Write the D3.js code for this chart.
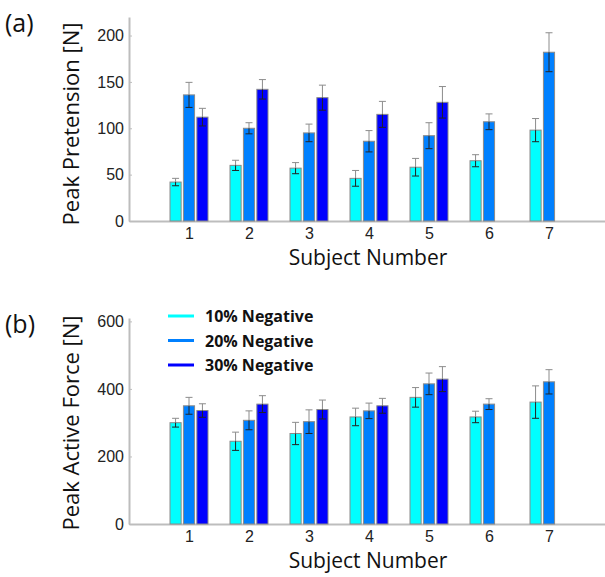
<!DOCTYPE html>
<html>
<head>
<meta charset="utf-8">
<script src="https://cdn.jsdelivr.net/npm/d3@7"></script>
<style>
  body { margin: 0; background: #fff; }
  svg { display: block; }
  .tick text { font-family: "Liberation Sans", Arial, sans-serif; font-size: 16px; fill: #222; }
  .label { font-family: "Open Sans", sans-serif; fill: #111; }
  .panel { font-family: "Open Sans", sans-serif; font-size: 25px; fill: #111; }
  .legend text { font-family: "Open Sans", sans-serif; font-size: 16px; font-weight: bold; fill: #111; }
</style>
</head>
<body>
<div id="chart"></div>
<script>
const subjects = [1, 2, 3, 4, 5, 6, 7]
const series = ['10% Negative', '20% Negative', '30% Negative']
const colors = ['#00ffff', '#0080ff', '#0000ff']

// (a) peak pretension [N], mean and error per series, null = not tested
const pretension = [
  [42, 60, 57, 46, 58, 65, 98],
  [136, 100, 95, 86, 92, 107, 182],
  [112, 142, 133, 115, 128, null, null]
]
const pretensionErr = [
  [4, 5.5, 6, 8.5, 9.5, 6.5, 12.5],
  [13.5, 6, 9.5, 11.5, 14, 8.5, 21],
  [9.5, 10.5, 13.5, 14, 17, null, null]
]

// (b) peak active force [N]
const force = [
  [300, 245, 268, 317, 375, 317, 361],
  [350, 307, 303, 335, 415, 355, 421],
  [336, 355, 339, 350, 429, null, null]
]
const forceErr = [
  [13, 27, 33, 26, 29, 17, 48],
  [25, 28, 35, 23, 32, 16, 36],
  [20, 25, 28, 22, 37, null, null]
]

const pretensionTicks = [0, 50, 100, 150, 200]
const forceTicks = [0, 200, 400, 600]

const width = 605, height = 577

const svg = d3.select('#chart').append('svg')
  .attr('width', width)
  .attr('height', height)

const x = d3.scaleLinear().domain([0, 8]).range([129, 609])
const xSub = d3.scaleBand().domain(d3.range(series.length)).range([-19, 19]).paddingInner(0.17)

function drawPanel(opts) {
  const y = d3.scaleLinear().domain(opts.domain).range([opts.bottom, opts.top])
  const g = svg.append('g')

  // axes, small inward ticks like the original
  const yAxis = g.append('g')
    .attr('transform', `translate(${x(0)},0)`)
    .call(d3.axisLeft(y).tickValues(opts.ticks).tickSizeInner(-3).tickSizeOuter(0).tickPadding(5))
  const xAxis = g.append('g')
    .attr('transform', `translate(0,${opts.bottom})`)
    .call(d3.axisBottom(x).tickValues(subjects).tickSizeInner(-3).tickSizeOuter(0).tickPadding(7))
  ;[yAxis, xAxis].forEach(a => {
    a.select('.domain').attr('stroke', '#bdbdbd').attr('stroke-width', 2)
    a.selectAll('.tick line').attr('stroke', '#bdbdbd')
  })

  // bars
  opts.values.forEach((vals, s) => {
    const data = subjects.map((d, i) => ({ subj: d, v: vals[i], e: opts.errors[s][i] }))
      .filter(d => d.v != null)
    const cx = d => x(d.subj) + xSub(s) + xSub.bandwidth() / 2

    g.selectAll(null)
      .data(data)
      .join('rect')
      .attr('x', d => x(d.subj) + xSub(s))
      .attr('y', d => y(d.v))
      .attr('width', xSub.bandwidth())
      .attr('height', d => y(0) - y(d.v))
      .attr('fill', colors[s])
      .attr('stroke', '#8a8a8a')
      .attr('stroke-width', 1)

    // error bars: upper half grey, lower half dark over the bar
    const eb = g.selectAll(null).data(data).join('g')
    eb.append('line')
      .attr('x1', cx).attr('x2', cx)
      .attr('y1', d => y(d.v)).attr('y2', d => y(d.v + d.e))
      .attr('stroke', '#8c8c8c')
    eb.append('line')
      .attr('x1', d => cx(d) - 3.5).attr('x2', d => cx(d) + 3.5)
      .attr('y1', d => y(d.v + d.e)).attr('y2', d => y(d.v + d.e))
      .attr('stroke', '#8c8c8c')
    eb.append('line')
      .attr('x1', cx).attr('x2', cx)
      .attr('y1', d => y(d.v)).attr('y2', d => y(d.v - d.e))
      .attr('stroke', '#222')
    eb.append('line')
      .attr('x1', d => cx(d) - 3.5).attr('x2', d => cx(d) + 3.5)
      .attr('y1', d => y(d.v - d.e)).attr('y2', d => y(d.v - d.e))
      .attr('stroke', '#222')
  })

  // labels
  g.append('text')
    .attr('class', 'label')
    .attr('text-anchor', 'middle')
    .style('font-size', '22px')
    .attr('transform', `translate(79,${opts.yLabelY}) rotate(-90)`)
    .text(opts.yLabel)
  g.append('text')
    .attr('class', 'label')
    .attr('text-anchor', 'middle')
    .style('font-size', '21px')
    .attr('x', 368)
    .attr('y', opts.bottom + 44)
    .text('Subject Number')
  g.append('text')
    .attr('class', 'panel')
    .attr('x', 5)
    .attr('y', opts.top + 15)
    .text(opts.panel)

  return g
}

drawPanel({
  domain: [0, 220], ticks: pretensionTicks, top: 17, bottom: 221,
  values: pretension, errors: pretensionErr,
  yLabel: 'Peak Pretension [N]', yLabelY: 124, panel: '(a)'
})

const gb = drawPanel({
  domain: [0, 610], ticks: forceTicks, top: 318, bottom: 524,
  values: force, errors: forceErr,
  yLabel: 'Peak Active Force [N]', yLabelY: 423, panel: '(b)'
})

// legend
const legend = gb.append('g').attr('class', 'legend')
series.forEach((name, i) => {
  const ly = 316 + i * 24.5
  legend.append('line')
    .attr('x1', 168).attr('x2', 194)
    .attr('y1', ly).attr('y2', ly)
    .attr('stroke', colors[i])
    .attr('stroke-width', 3)
  legend.append('text')
    .attr('x', 205)
    .attr('y', ly + 6)
    .text(name)
})
</script>
</body>
</html>
